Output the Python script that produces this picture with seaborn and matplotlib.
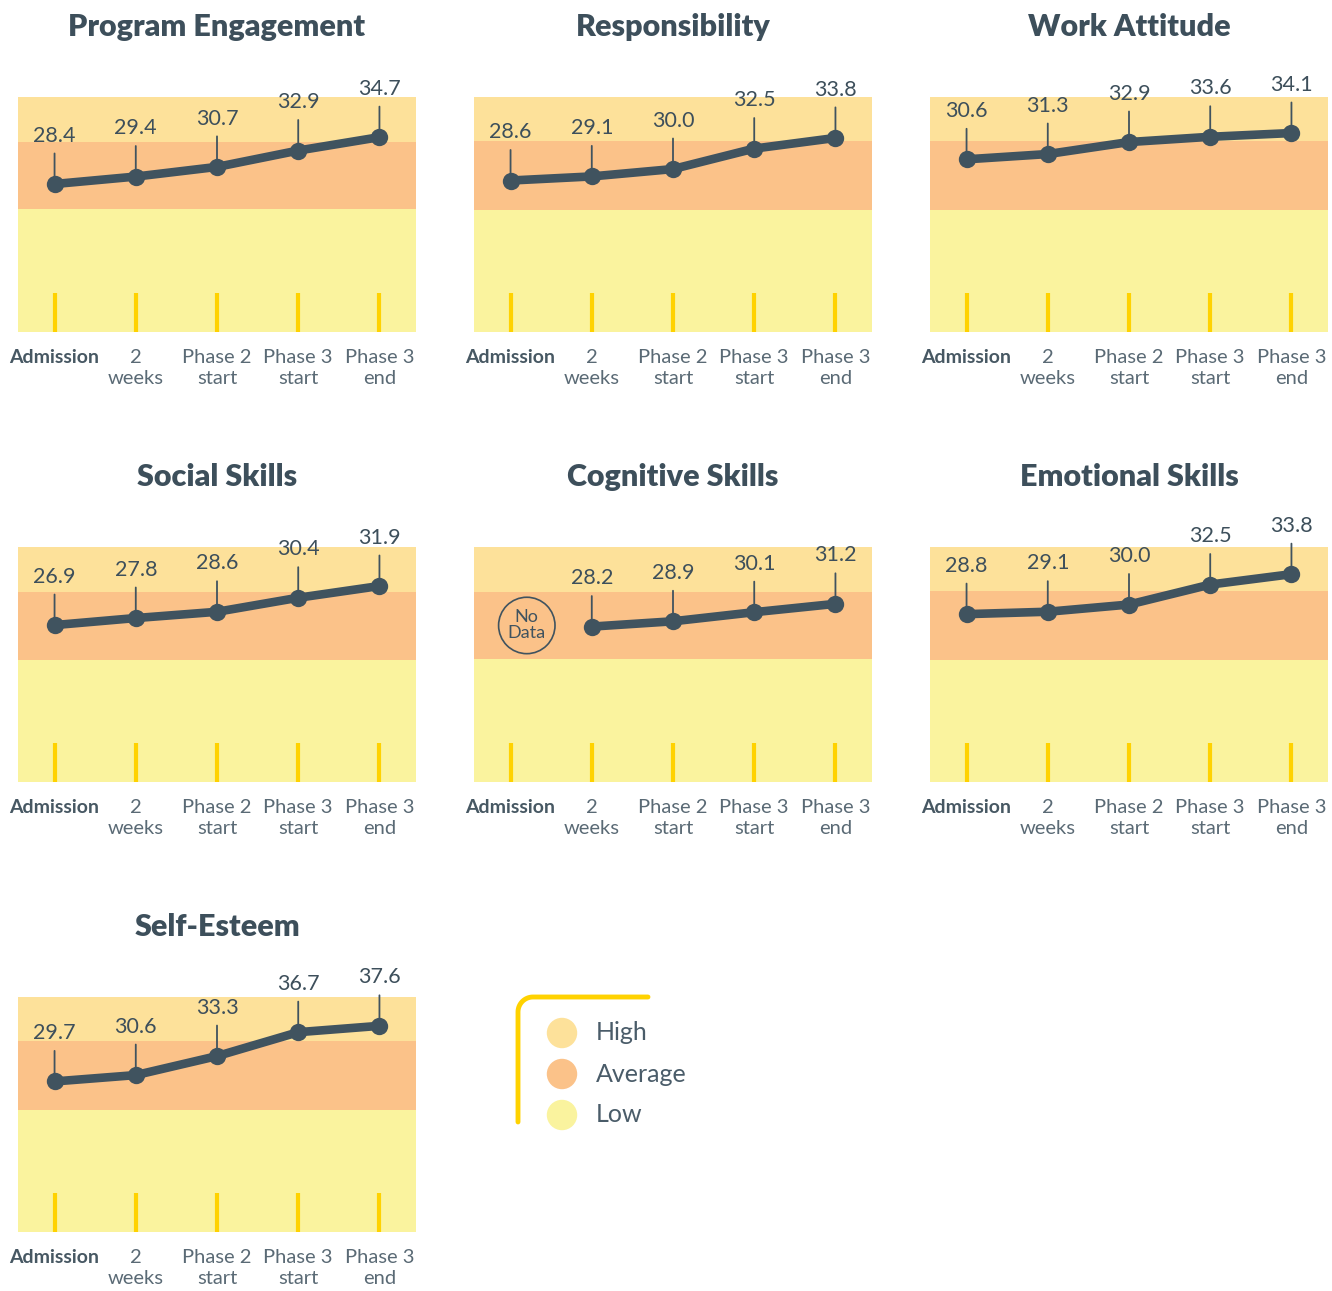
import numpy as np
import matplotlib.pyplot as plt
import matplotlib.transforms as mtransforms
import seaborn as sns

sns.set_style("white")
plt.rcParams['font.family'] = ['Lato', 'DejaVu Sans']

# Stages along the x axis
stages = ["Admission", "2\nweeks", "Phase 2\nstart", "Phase 3\nstart", "Phase 3\nend"]

# Scores per domain (NaN = no data)
program_engagement = [28.4, 29.4, 30.7, 32.9, 34.7]
responsibility = [28.6, 29.1, 30.0, 32.5, 33.8]
work_attitude = [30.6, 31.3, 32.9, 33.6, 34.1]
social_skills = [26.9, 27.8, 28.6, 30.4, 31.9]
cognitive_skills = [np.nan, 28.2, 28.9, 30.1, 31.2]
emotional_skills = [28.8, 29.1, 30.0, 32.5, 33.8]
self_esteem = [29.7, 30.6, 33.3, 36.7, 37.6]

titles = ["Program Engagement", "Responsibility", "Work Attitude",
          "Social Skills", "Cognitive Skills", "Emotional Skills", "Self-Esteem"]
series = [program_engagement, responsibility, work_attitude,
          social_skills, cognitive_skills, emotional_skills, self_esteem]

# Norm bands per domain: axis min, low/average cut, average/high cut, axis max
axis_min = [8.5, 10.1, 7.6, 6.8, 7.7, 7.8, 8.3]
low_cut = [25.0, 25.0, 23.9, 22.4, 23.9, 23.1, 25.6]
high_cut = [34.0, 33.4, 33.0, 31.2, 32.8, 31.7, 35.4]
axis_max = [40.1, 38.8, 38.9, 36.9, 38.7, 37.2, 41.7]

levels = ["High", "Average", "Low"]
band_colors = {"High": "#FDE19A", "Average": "#FBC289", "Low": "#FAF39E"}

dark = "#40535F"
title_col = "#3D4F5B"
tick_col = "#5A6A75"
yellow = "#FFD200"

W, H = 1332, 1291
fig = plt.figure(figsize=(W / 100, H / 100), dpi=100)
col_x = [18, 474, 930]
row_y = [97, 547, 997]
aw, ah = 398, 235

xs = np.arange(len(stages))
for k, (title, vals) in enumerate(zip(titles, series)):
    r, c = divmod(k, 3)
    ax = fig.add_axes([col_x[c] / W, 1 - (row_y[r] + ah) / H, aw / W, ah / H])

    ax.axhspan(axis_min[k], low_cut[k], color=band_colors["Low"], lw=0, zorder=0)
    ax.axhspan(low_cut[k], high_cut[k], color=band_colors["Average"], lw=0, zorder=0)
    ax.axhspan(high_cut[k], axis_max[k], color=band_colors["High"], lw=0, zorder=0)

    sns.lineplot(x=xs, y=vals, ax=ax, color=dark, lw=6.2, marker="o",
                 markersize=12.5, markeredgewidth=0, zorder=3)

    for x, v in zip(xs, vals):
        if np.isnan(v):
            continue
        ax.annotate("", xy=(x, v), xytext=(0, 22), textcoords="offset points",
                    arrowprops=dict(arrowstyle="-", color=dark, lw=1.3,
                                    shrinkA=0, shrinkB=0), zorder=2)
        ax.annotate(f"{v:.1f}", xy=(x, v), xytext=(0, 30.5), textcoords="offset points",
                    ha="center", va="baseline", fontsize=15.5, color=title_col)

    if np.isnan(vals[0]):
        mid = (low_cut[k] + high_cut[k]) / 2
        ax.scatter([0.2], [mid], s=1650, facecolors="none", edgecolors=dark,
                   linewidths=1.2, zorder=3)
        ax.text(0.2, mid, "No\nData", ha="center", va="center", fontsize=13,
                color=dark, linespacing=1.0, zorder=4)

    ax.set_xlim(-0.45, 4.45)
    ax.set_ylim(axis_min[k], axis_max[k])
    ax.set_yticks([])
    ax.set_xticks(xs)
    ax.set_xticklabels(stages, fontsize=14.5, color=tick_col, linespacing=1.3)
    first = ax.get_xticklabels()[0]
    first.set_fontweight("bold")
    first.set_fontsize(14)
    first.set_color("#475863")
    first.set_transform(first.get_transform() +
                        mtransforms.ScaledTranslation(7 / 100, 0, fig.dpi_scale_trans))
    ax.tick_params(axis="x", bottom=True, direction="in", length=28, width=3,
                   color=yellow, pad=12)
    for s in ax.spines.values():
        s.set_visible(False)
    ax.set_title(title, fontsize=22, fontweight="heavy", color=title_col, pad=44)

# Legend
lax = fig.add_axes([500 / W, 1 - 1140 / H, 200 / W, 160 / H])
lax.set_xlim(500, 700)
lax.set_ylim(1140, 980)
lax.axis("off")
t = np.linspace(0, np.pi / 2, 20)
bx = np.concatenate([[518], 533 - 15 * np.cos(t), [648]])
by = np.concatenate([[1122], 1012 - 15 * np.sin(t), [997]])
lax.plot(bx, by, color=yellow, lw=3.5, solid_capstyle="round")
ly = [1033, 1074, 1115]
sns.scatterplot(x=[562] * 3, y=ly, hue=levels, palette=band_colors, s=480,
                linewidth=0, legend=False, ax=lax)
for lab, yy in zip(levels, ly):
    lax.text(596, yy, lab, va="center", ha="left", fontsize=18, color="#4A5C69")

fig.savefig("out.png", dpi=100)
